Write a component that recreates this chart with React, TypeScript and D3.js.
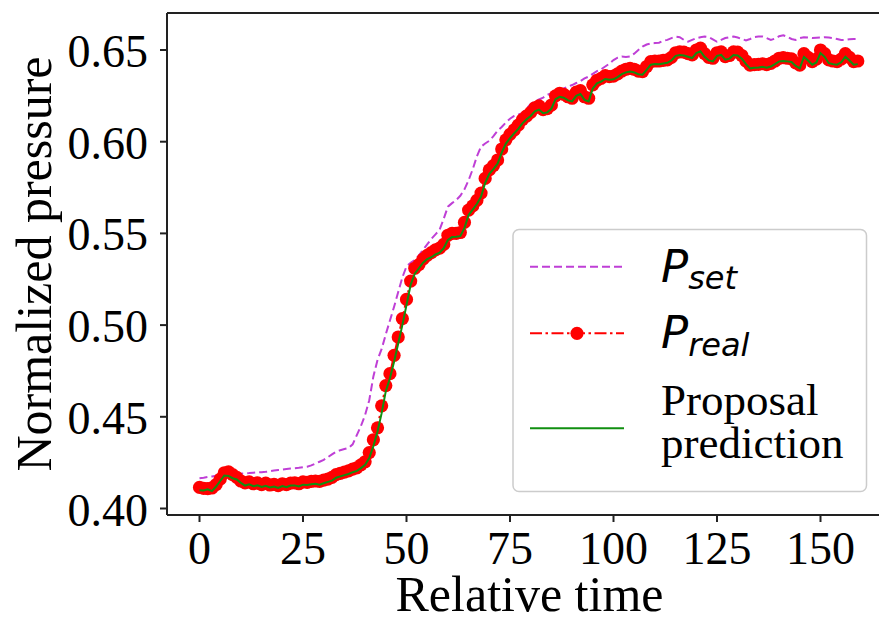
import React from "react";
import * as d3 from "d3";

const pSet = [
  0.4165, 0.4168, 0.4172, 0.4175, 0.4178, 0.418, 0.4182, 0.4185, 0.4187, 0.419,
  0.419, 0.4192, 0.4193, 0.4195, 0.4197, 0.4198, 0.42, 0.4203, 0.4207, 0.421,
  0.4212, 0.4215, 0.4218, 0.422, 0.4222, 0.4225, 0.4228, 0.4235, 0.4245, 0.4255,
  0.4265, 0.428, 0.4295, 0.431, 0.4318, 0.4324, 0.433, 0.435, 0.44, 0.445,
  0.451, 0.459, 0.472, 0.481, 0.487, 0.495, 0.5025, 0.51, 0.518, 0.526,
  0.532, 0.534, 0.5355, 0.538, 0.541, 0.544, 0.547, 0.5495, 0.552, 0.558,
  0.5646, 0.5665, 0.5682, 0.5705, 0.574, 0.579, 0.585, 0.592, 0.5973, 0.599,
  0.6005, 0.603, 0.606, 0.608, 0.6105, 0.6125, 0.614, 0.6148, 0.6157, 0.618,
  0.6205, 0.622, 0.623, 0.624, 0.6255, 0.6265, 0.6275, 0.6282, 0.629, 0.63,
  0.6309, 0.632, 0.633, 0.6345, 0.6355, 0.637, 0.6385, 0.6395, 0.641, 0.6425,
  0.6445, 0.6458, 0.6464, 0.6462, 0.6465, 0.648, 0.65, 0.6518, 0.653, 0.6536,
  0.6538, 0.654, 0.655, 0.6555, 0.6565, 0.6573, 0.657, 0.6555, 0.6545, 0.6555,
  0.6564, 0.657, 0.6573, 0.657, 0.6558, 0.6545, 0.6555, 0.6565, 0.657, 0.6573,
  0.6568, 0.656, 0.6552, 0.656, 0.657, 0.6573, 0.6573, 0.6565, 0.6555, 0.6562,
  0.6575, 0.658, 0.6572, 0.656, 0.6555, 0.6565, 0.657, 0.6568, 0.6565, 0.6567,
  0.6568, 0.657, 0.6568, 0.6565, 0.656, 0.6555, 0.6555, 0.6558, 0.656, 0.656,
];

const pReal = [
  0.4115, 0.411, 0.4108, 0.4112, 0.413, 0.416, 0.4195, 0.42, 0.4185, 0.417,
  0.415, 0.414, 0.4145, 0.4135, 0.414, 0.413, 0.4138, 0.4128, 0.4132, 0.4125,
  0.4135, 0.413, 0.4138, 0.414, 0.4135, 0.4145, 0.4142, 0.4148, 0.415, 0.4148,
  0.4155, 0.416, 0.417, 0.4185, 0.4192, 0.4198, 0.4205, 0.4215, 0.4222, 0.4238,
  0.4255, 0.4305, 0.4375, 0.444, 0.456, 0.467, 0.4735, 0.4835, 0.4935, 0.5035,
  0.514, 0.524, 0.531, 0.533, 0.536, 0.538, 0.5395, 0.541, 0.542, 0.544,
  0.549, 0.55, 0.55, 0.5505, 0.556, 0.5627, 0.565, 0.568, 0.572, 0.58,
  0.5846, 0.587, 0.59, 0.596, 0.601, 0.604, 0.6064, 0.609, 0.612, 0.614,
  0.616, 0.6185, 0.6195, 0.6175, 0.618, 0.62, 0.625, 0.6264, 0.6258, 0.6245,
  0.6237, 0.627, 0.6278, 0.6245, 0.6237, 0.631, 0.6335, 0.6345, 0.636, 0.6355,
  0.6358, 0.637, 0.6385, 0.6395, 0.64, 0.6395, 0.6385, 0.6382, 0.641, 0.6437,
  0.644, 0.644, 0.6443, 0.6446, 0.646, 0.6485, 0.649, 0.6488, 0.648, 0.6473,
  0.65, 0.651, 0.648, 0.646, 0.6455, 0.6485, 0.649, 0.6464, 0.647, 0.649,
  0.6488, 0.647, 0.644, 0.6418, 0.642, 0.6422, 0.6425, 0.642, 0.6427, 0.644,
  0.6455, 0.6458, 0.6455, 0.6452, 0.643, 0.6418, 0.648, 0.646, 0.6437, 0.645,
  0.65, 0.648, 0.6446, 0.644, 0.6437, 0.645, 0.648, 0.646, 0.6437, 0.644,
];

const pPred = [
  0.41, 0.4098, 0.4105, 0.4095, 0.412, 0.415, 0.418, 0.4178, 0.4165, 0.4158,
  0.414, 0.4125, 0.4132, 0.4122, 0.4126, 0.4118, 0.4124, 0.4115, 0.412, 0.4112,
  0.4122, 0.4116, 0.4125, 0.4126, 0.412, 0.413, 0.4128, 0.4132, 0.4135, 0.413,
  0.4138, 0.4145, 0.4152, 0.4168, 0.4175, 0.4182, 0.4188, 0.4198, 0.4205, 0.422,
  0.4238, 0.4275, 0.434, 0.442, 0.452, 0.464, 0.471, 0.48, 0.49, 0.5,
  0.511, 0.522, 0.528, 0.531, 0.534, 0.536, 0.537, 0.5385, 0.5395, 0.542,
  0.5465, 0.548, 0.5482, 0.5485, 0.553, 0.56, 0.563, 0.566, 0.57, 0.5775,
  0.5825, 0.585, 0.588, 0.594, 0.599, 0.602, 0.6045, 0.607, 0.61, 0.6122,
  0.614, 0.6165, 0.6175, 0.6155, 0.616, 0.618, 0.6232, 0.6245, 0.624, 0.6225,
  0.622, 0.625, 0.626, 0.6228, 0.622, 0.629, 0.6318, 0.6328, 0.6342, 0.6338,
  0.634, 0.6352, 0.6368, 0.6378, 0.6383, 0.6378, 0.6368, 0.6365, 0.6392, 0.642,
  0.6423, 0.6422, 0.6426, 0.643, 0.6443, 0.6468, 0.6473, 0.647, 0.6463, 0.6456,
  0.6483, 0.6493, 0.6463, 0.6443, 0.6438, 0.6468, 0.6473, 0.6447, 0.6453, 0.6473,
  0.647, 0.6453, 0.6423, 0.64, 0.6403, 0.6405, 0.6408, 0.6403, 0.641, 0.6423,
  0.6438, 0.644, 0.6438, 0.6435, 0.6413, 0.64, 0.6462, 0.6443, 0.642, 0.6432,
  0.6483, 0.6463, 0.6428, 0.6423, 0.642, 0.6433, 0.6463, 0.6443, 0.642, 0.6423,
];

const xTicks = [0, 25, 50, 75, 100, 125, 150];
const yTicks = [0.4, 0.45, 0.5, 0.55, 0.6, 0.65];

const W = 879;
const H = 622;
const plot = { left: 167, top: 13, bottom: 515, right: 892 };

const SET_COLOR = "#bf3fd6";
const REAL_COLOR = "#ff0000";
const PRED_COLOR = "#108f10";
const SERIF = "'Liberation Serif', 'Times New Roman', serif";
const SANS = "'DejaVu Sans', sans-serif";

export default function App() {
  const x = d3.scaleLinear().domain([0, 150]).range([199.5, 820.5]);
  const y = d3.scaleLinear().domain([0.4, 0.65]).range([508.5, 50]);

  const line = d3
    .line<number>()
    .x((_, i) => x(i))
    .y((d) => y(d));

  const fmtY = d3.format(".2f");

  return (
    <svg
      width={W}
      height={H}
      style={{ position: "absolute", left: 0, top: 0, background: "#fff" }}
    >
      <defs>
        <clipPath id="plotclip">
          <rect
            x={plot.left}
            y={plot.top}
            width={plot.right - plot.left}
            height={plot.bottom - plot.top}
          />
        </clipPath>
      </defs>
      <rect x={0} y={0} width={W} height={H} fill="#fff" />

      <g clipPath="url(#plotclip)">
        <path
          d={line(pSet) || ""}
          fill="none"
          stroke={SET_COLOR}
          strokeWidth={2}
          strokeDasharray="8,4"
        />
        <path
          d={line(pReal) || ""}
          fill="none"
          stroke={REAL_COLOR}
          strokeWidth={2}
          strokeDasharray="12,3.5,2.5,3.5"
        />
        {pReal.map((v, i) => (
          <circle key={i} cx={x(i)} cy={y(v)} r={6.6} fill={REAL_COLOR} />
        ))}
        <path d={line(pPred) || ""} fill="none" stroke={PRED_COLOR} strokeWidth={2} />
      </g>

      {/* spines */}
      <line x1={plot.left} x2={plot.left} y1={plot.top} y2={plot.bottom} stroke="#222" strokeWidth={2} />
      <line x1={plot.left} x2={plot.right} y1={plot.bottom} y2={plot.bottom} stroke="#222" strokeWidth={2} />
      <line x1={plot.left} x2={plot.right} y1={plot.top} y2={plot.top} stroke="#222" strokeWidth={2} />
      <line x1={plot.right} x2={plot.right} y1={plot.top} y2={plot.bottom} stroke="#222" strokeWidth={2} />

      {/* y ticks */}
      {yTicks.map((t) => (
        <g key={t}>
          <line x1={plot.left - 7} x2={plot.left} y1={y(t)} y2={y(t)} stroke="#222" strokeWidth={2} />
          <text
            x={148}
            y={y(t) + 17}
            textAnchor="end"
            fontFamily={SERIF}
            fontSize={46}
            fill="#000"
          >
            {fmtY(t)}
          </text>
        </g>
      ))}

      {/* x ticks */}
      {xTicks.map((t) => (
        <g key={t}>
          <line x1={x(t)} x2={x(t)} y1={plot.bottom} y2={plot.bottom + 7} stroke="#222" strokeWidth={2} />
          <text
            x={x(t)}
            y={563.5}
            textAnchor="middle"
            fontFamily={SERIF}
            fontSize={46}
            fill="#000"
          >
            {t}
          </text>
        </g>
      ))}

      {/* axis labels */}
      <text
        x={(plot.left + plot.right) / 2}
        y={611}
        textAnchor="middle"
        fontFamily={SERIF}
        fontSize={50}
        fill="#000"
      >
        Relative time
      </text>
      <text
        transform={`translate(51, ${(plot.top + plot.bottom) / 2}) rotate(-90)`}
        textAnchor="middle"
        fontFamily={SERIF}
        fontSize={50}
        fill="#000"
      >
        Normalized pressure
      </text>

      {/* legend */}
      <g>
        <rect
          x={513}
          y={229.5}
          width={353.5}
          height={262}
          rx={6}
          fill="#fff"
          fillOpacity={0.8}
          stroke="#cccccc"
          strokeWidth={1.5}
        />
        <line x1={530} x2={624} y1={266.7} y2={266.7} stroke={SET_COLOR} strokeWidth={2} strokeDasharray="8,4" />
        <text x={661} y={281.7} fontFamily={SANS} fontStyle="italic" fontSize={45} fill="#000">
          P
          <tspan fontSize={32} dy={7}>set</tspan>
        </text>

        <line
          x1={530}
          x2={624}
          y1={333.3}
          y2={333.3}
          stroke={REAL_COLOR}
          strokeWidth={2}
          strokeDasharray="12,3.5,2.5,3.5"
        />
        <circle cx={577} cy={333.3} r={6.6} fill={REAL_COLOR} />
        <text x={661} y={348.3} fontFamily={SANS} fontStyle="italic" fontSize={45} fill="#000">
          P
          <tspan fontSize={32} dy={8}>real</tspan>
        </text>

        <line x1={530} x2={624} y1={428.3} y2={428.3} stroke={PRED_COLOR} strokeWidth={2} />
        <text x={661} y={415} fontFamily={SERIF} fontSize={45} fill="#000">
          Proposal
        </text>
        <text x={661} y={458} fontFamily={SERIF} fontSize={45} fill="#000">
          prediction
        </text>
      </g>
    </svg>
  );
}
